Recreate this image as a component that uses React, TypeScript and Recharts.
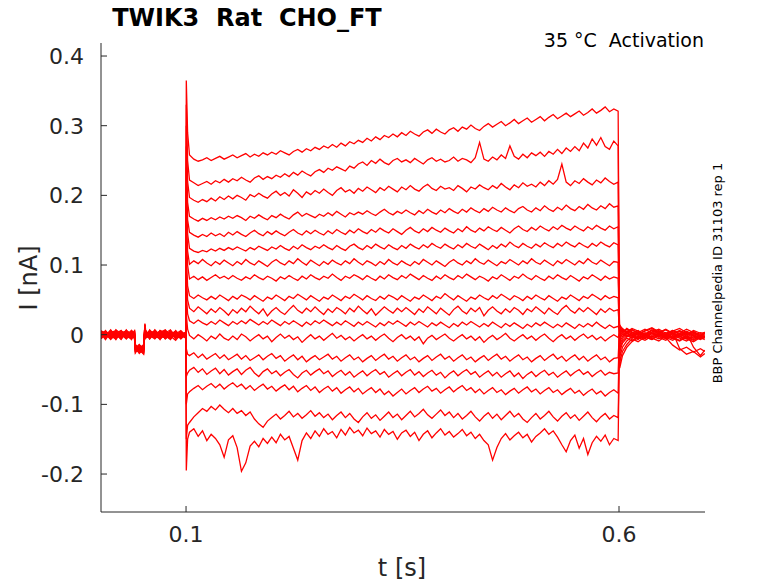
import React from 'react';
import { LineChart, Line, XAxis, YAxis } from 'recharts';

// sweep currents in pA, top sweep first
const SWEEPS = 17;
const X_TICKS = [0.1, 0.6];
const Y_TICKS = [-0.2, -0.1, 0, 0.1, 0.2, 0.3, 0.4];

// holding period before the step
const PRE_T = [0.002, 0.007, 0.013, 0.019, 0.025, 0.031, 0.037, 0.0405, 0.0415, 0.046, 0.051, 0.0525, 0.0535, 0.058, 0.064, 0.07, 0.076, 0.082, 0.088, 0.094, 0.0998];
const PRE_PA = [
  [3, -5, 2, -7, 4, -3, 6, -1, -20, -24, -17, 14, 2, -6, 3, -4, 5, -2, -8, 1, -3],
  [-4, 2, -6, 5, -2, 7, -5, 3, -16, -27, -21, 9, -3, 4, -5, 6, -1, -7, 3, -4, 2],
  [5, -1, 6, -4, 1, -6, 2, -5, -23, -19, -25, 16, 5, -2, 6, -3, 2, 7, -5, 4, -1],
  [-2, 6, -3, 1, -7, 3, -1, 5, -18, -22, -14, 6, -4, 7, -1, 3, -6, 1, 5, -3, 4],
  [1, -7, 4, -2, 5, -4, 3, -6, -25, -16, -20, 11, 1, -5, 2, -7, 4, -3, 1, 6, -2],
  [-6, 3, -1, 6, -3, 2, -7, 1, -15, -21, -28, 4, 6, -1, -6, 2, -3, 5, -2, -5, 3],
  [4, -2, 7, -3, 2, -5, 5, -3, -21, -26, -18, 13, -2, 3, 5, -1, 6, -4, 3, -1, -5],
  [-3, 5, -4, 2, 6, -1, -4, 4, -19, -14, -23, 8, 3, -4, 1, 5, -2, 3, -6, 2, 1],
  [2, -4, 1, -6, 3, 5, -2, -4, -24, -20, -16, 15, -1, 6, -3, -5, 1, -2, 4, -3, -2],
  [-5, 1, -7, 4, -1, -3, 6, 2, -17, -25, -22, 3, 4, -3, 4, 0, -5, 6, -1, 5, 0],
  [6, -3, 3, -1, -5, 4, 0, -5, -22, -18, -26, 10, -5, 2, -4, 6, 3, -6, 2, -2, 3],
  [-1, 4, -5, 7, 1, -6, 3, 0, -20, -23, -15, 7, 2, -6, 6, -2, -4, 2, -3, 3, -4],
  [3, -6, 5, -3, 4, 1, -5, 6, -14, -20, -24, 12, -3, 5, -2, 3, 7, -1, 5, -6, 1],
  [-4, 0, -2, 3, -6, 6, 1, -2, -26, -17, -19, 5, 5, -1, 2, -6, 0, 4, -4, 0, -1],
  [1, 5, -6, -1, 3, -2, -6, 3, -18, -24, -21, 14, 0, 3, -5, 4, -3, -5, 6, -2, 4],
  [-3, -2, 4, 5, -4, 3, 4, -3, -22, -15, -18, 6, -4, -3, 7, -1, 5, 2, -2, 4, -3],
  [5, 3, -3, -5, 6, -4, -3, 5, -17, -22, -27, 9, 3, 1, -2, 5, -6, 0, 1, -4, 2],
];

// capacitive transient at step onset
const ONSET_T = [0.1003, 0.1018];
const SPIKE_PA = [365, 330, 300, 270, 240, 210, 180, 150, 120, 90, 60, 30, -20, -60, -100, -150, -195];
const DECAY_PA = [290, 250, 220, 190, 165, 145, 120, 100, 70, 50, 30, 8, -28, -55, -85, -130, -150];

// step, sampled every 5 ms from 0.104 s
const STEP_START = 0.104;
const STEP_DT = 0.005;
const STEP_PA = [
  [258, 252, 249, 251, 254, 250, 253, 256, 252, 255, 258, 254, 257, 260, 255, 259, 256, 261, 258, 262,
   259, 264, 261, 258, 263, 266, 262, 267, 264, 269, 266, 271, 268, 273, 269, 275, 271, 277, 274, 279,
   276, 282, 278, 284, 280, 286, 283, 288, 284, 290, 286, 292, 288, 285, 291, 294, 289, 295, 291, 288,
   294, 297, 292, 298, 295, 301, 296, 293, 299, 303, 298, 302, 306, 300, 304, 309, 303, 307, 311, 305,
   309, 313, 307, 312, 316, 310, 314, 318, 313, 317, 321, 315, 319, 324, 318, 322, 327, 320, 324, 321],
  [222, 218, 214, 217, 220, 216, 221, 218, 223, 219, 224, 221, 226, 222, 219, 225, 228, 223, 227, 224,
   229, 226, 231, 227, 233, 229, 235, 231, 228, 234, 237, 233, 239, 236, 241, 238, 235, 242, 239, 245,
   248, 243, 250, 246, 252, 247, 244, 250, 253, 248, 251, 247, 253, 249, 245, 251, 254, 249, 252, 248,
   250, 255, 249, 253, 251, 247, 254, 276, 252, 249, 255, 251, 258, 253, 271, 256, 252, 259, 254, 261,
   257, 262, 256, 263, 259, 266, 260, 268, 263, 270, 264, 275, 268, 281, 272, 283, 270, 266, 278, 271],
  [197, 193, 190, 194, 191, 196, 192, 198, 194, 199, 195, 200, 197, 193, 201, 198, 203, 199, 196, 202,
   206, 200, 204, 199, 208, 203, 197, 205, 201, 207, 203, 209, 204, 200, 207, 211, 205, 208, 203, 210,
   206, 212, 208, 204, 211, 207, 213, 209, 205, 212, 208, 214, 209, 206, 212, 216, 210, 207, 213, 209,
   211, 207, 214, 210, 205, 212, 209, 215, 211, 208, 214, 210, 217, 212, 208, 215, 211, 218, 213, 216,
   212, 219, 214, 221, 216, 223, 245, 219, 214, 221, 217, 224, 219, 215, 222, 218, 225, 220, 216, 219],
  [170, 166, 163, 167, 164, 168, 165, 169, 166, 170, 167, 171, 168, 164, 170, 167, 172, 168, 165, 171,
   168, 173, 169, 166, 172, 176, 170, 174, 171, 168, 173, 170, 175, 171, 177, 173, 169, 175, 172, 176,
   173, 178, 174, 171, 176, 180, 175, 172, 177, 174, 179, 175, 172, 178, 174, 180, 176, 173, 179, 175,
   181, 177, 174, 180, 176, 182, 178, 175, 181, 177, 183, 179, 176, 182, 178, 175, 181, 184, 179, 176,
   182, 178, 185, 180, 177, 183, 179, 186, 181, 178, 184, 180, 187, 182, 179, 185, 181, 188, 183, 185],
  [147, 143, 140, 144, 141, 146, 142, 145, 141, 147, 143, 148, 144, 141, 146, 150, 145, 142, 148, 144,
   149, 145, 142, 147, 151, 146, 143, 149, 145, 150, 146, 143, 149, 145, 151, 147, 144, 150, 146, 152,
   148, 145, 151, 147, 153, 149, 146, 152, 148, 144, 150, 154, 149, 146, 152, 148, 154, 150, 147, 153,
   149, 146, 152, 148, 155, 150, 147, 153, 149, 155, 151, 148, 154, 150, 146, 152, 156, 151, 148, 154,
   150, 156, 152, 149, 155, 151, 157, 153, 150, 156, 152, 149, 155, 151, 157, 153, 150, 156, 152, 155],
  [124, 120, 118, 121, 119, 123, 120, 124, 121, 125, 122, 126, 123, 120, 125, 122, 127, 124, 121, 126,
   123, 128, 124, 121, 127, 123, 129, 125, 122, 127, 124, 129, 125, 122, 128, 124, 121, 127, 130, 125,
   122, 128, 124, 130, 126, 123, 129, 125, 122, 128, 124, 130, 126, 123, 129, 125, 131, 127, 124, 130,
   126, 123, 129, 125, 131, 127, 124, 130, 126, 122, 128, 124, 130, 126, 133, 128, 125, 131, 127, 124,
   130, 126, 132, 128, 125, 131, 127, 133, 129, 126, 132, 128, 125, 131, 127, 133, 129, 126, 132, 129],
  [101, 106, 102, 108, 103, 99, 105, 101, 107, 103, 99, 105, 101, 108, 103, 100, 106, 102, 98, 104,
   108, 103, 100, 106, 102, 109, 104, 100, 107, 103, 99, 105, 101, 107, 103, 100, 106, 102, 109, 104,
   100, 106, 103, 99, 105, 101, 108, 103, 100, 106, 102, 99, 105, 101, 108, 104, 100, 106, 102, 98,
   104, 108, 103, 100, 106, 102, 109, 104, 101, 107, 103, 99, 105, 102, 108, 104, 100, 106, 102, 109,
   104, 101, 107, 103, 99, 106, 102, 108, 104, 100, 106, 102, 109, 104, 101, 107, 103, 99, 105, 104],
  [80, 84, 79, 83, 78, 82, 86, 81, 84, 80, 85, 81, 78, 83, 80, 86, 82, 79, 84, 81,
   77, 83, 80, 85, 81, 78, 84, 80, 86, 82, 79, 84, 81, 87, 82, 78, 84, 81, 86, 83,
   79, 85, 81, 78, 84, 80, 86, 82, 79, 85, 81, 87, 83, 79, 85, 81, 78, 84, 80, 86,
   82, 79, 85, 81, 87, 83, 79, 84, 81, 77, 83, 80, 86, 82, 78, 84, 81, 87, 82, 79,
   85, 81, 78, 84, 80, 86, 82, 79, 85, 81, 77, 83, 80, 86, 82, 78, 84, 80, 83, 81],
  [56, 52, 57, 53, 50, 55, 51, 57, 53, 49, 55, 51, 57, 54, 50, 56, 52, 48, 54, 51,
   57, 53, 49, 55, 52, 58, 54, 50, 56, 52, 48, 54, 51, 57, 53, 49, 55, 52, 58, 54,
   50, 56, 52, 49, 55, 51, 57, 54, 50, 56, 52, 48, 54, 51, 57, 53, 49, 55, 52, 59,
   54, 50, 56, 52, 48, 54, 51, 57, 53, 50, 56, 52, 58, 54, 50, 56, 53, 49, 55, 51,
   57, 53, 50, 56, 52, 48, 54, 51, 57, 53, 49, 55, 52, 58, 54, 50, 56, 52, 55, 53],
  [38, 33, 40, 35, 30, 37, 32, 39, 34, 28, 36, 31, 38, 33, 41, 35, 30, 37, 27, 34,
   39, 33, 29, 36, 42, 35, 31, 38, 33, 40, 34, 29, 37, 32, 39, 35, 30, 38, 33, 41,
   35, 30, 37, 28, 34, 40, 35, 31, 38, 33, 39, 34, 29, 37, 32, 40, 35, 30, 38, 33,
   28, 36, 41, 34, 30, 38, 33, 39, 27, 35, 40, 34, 30, 37, 32, 39, 35, 29, 37, 33,
   40, 35, 30, 38, 33, 29, 37, 42, 35, 31, 38, 33, 39, 34, 29, 37, 32, 38, 34, 36],
  [20, 16, 21, 17, 14, 19, 15, 21, 17, 13, 19, 15, 20, 16, 22, 18, 14, 19, 15, 21,
   17, 13, 19, 15, 20, 16, 12, 18, 14, 20, 16, 21, 17, 13, 18, 14, 20, 16, 12, 18,
   14, 19, 15, 11, 17, 13, 19, 15, 20, 16, 12, 18, 14, 19, 15, 11, 17, 13, 18, 14,
   10, 16, 12, 18, 14, 19, 15, 11, 16, 12, 18, 14, 10, 16, 12, 17, 13, 9, 15, 11,
   17, 13, 18, 14, 10, 15, 11, 17, 13, 9, 15, 11, 16, 12, 18, 13, 9, 14, 10, 12],
  [-1, -6, 0, -4, -9, -2, -6, 1, -5, -8, -2, -7, 1, -3, -9, -4, 0, -6, -2, -10,
   -4, 1, -5, -1, -7, -3, -11, -5, 0, -6, -2, -8, -3, 2, -5, -1, -7, -3, -9, -4,
   0, -6, -2, -8, -3, 1, -5, -10, -4, 0, -6, -2, -8, -3, -13, -5, -1, -7, -3, 1,
   -5, -9, -4, 0, -6, -2, -8, -3, -11, -5, -1, -7, -3, 2, -5, -9, -4, 0, -6, -2,
   -8, -3, 1, -5, -10, -4, 0, -6, -2, -8, -3, 1, -5, -1, -7, -3, -9, -4, 0, -4],
  [-30, -26, -33, -28, -35, -31, -27, -34, -29, -36, -32, -28, -35, -30, -37, -33, -29, -36, -31, -27,
   -34, -30, -38, -33, -29, -36, -31, -39, -34, -30, -36, -32, -28, -35, -31, -38, -33, -29, -36, -32,
   -39, -34, -30, -37, -32, -28, -35, -31, -38, -33, -29, -36, -32, -39, -34, -30, -37, -32, -28, -35,
   -31, -38, -33, -29, -36, -32, -39, -34, -30, -37, -32, -28, -35, -31, -38, -33, -29, -36, -32, -39,
   -34, -30, -37, -32, -28, -35, -31, -38, -33, -29, -36, -31, -38, -33, -29, -36, -32, -39, -34, -33],
  [-51, -47, -54, -49, -57, -52, -48, -56, -50, -58, -53, -49, -57, -51, -47, -55, -60, -53, -49, -56,
   -52, -59, -54, -50, -57, -62, -55, -51, -58, -53, -49, -56, -52, -60, -55, -51, -58, -53, -61, -56,
   -52, -59, -54, -50, -57, -53, -61, -56, -52, -59, -54, -50, -58, -53, -60, -55, -51, -58, -54, -62,
   -56, -52, -59, -54, -50, -57, -53, -61, -56, -52, -59, -54, -61, -56, -52, -60, -55, -63, -57, -53,
   -60, -55, -51, -58, -54, -61, -56, -52, -59, -54, -50, -57, -53, -60, -55, -51, -58, -54, -56, -55],
  [-82, -77, -73, -79, -74, -70, -76, -71, -78, -73, -69, -75, -71, -78, -73, -80, -75, -71, -78, -74,
   -81, -76, -72, -79, -74, -82, -77, -73, -80, -75, -83, -78, -74, -81, -76, -84, -79, -75, -82, -77,
   -85, -80, -76, -83, -78, -86, -81, -88, -83, -78, -85, -80, -76, -83, -78, -74, -81, -77, -84, -79,
   -75, -82, -77, -73, -80, -76, -83, -78, -85, -80, -76, -83, -79, -86, -81, -77, -84, -79, -75, -82,
   -78, -85, -80, -76, -83, -79, -86, -81, -77, -84, -80, -87, -82, -78, -85, -81, -88, -83, -79, -84],
  [-126, -118, -112, -106, -110, -103, -108, -101, -107, -112, -106, -113, -109, -116, -111, -121, -128, -133, -124, -119,
   -114, -121, -116, -110, -118, -113, -120, -115, -109, -117, -112, -119, -114, -122, -116, -111, -119, -113, -121, -126,
   -118, -112, -120, -115, -123, -117, -111, -119, -114, -122, -116, -110, -118, -113, -107, -115, -120, -114, -108, -116,
   -111, -119, -113, -121, -116, -110, -118, -124, -117, -112, -120, -114, -122, -116, -110, -118, -113, -121, -126, -119,
   -113, -121, -116, -110, -118, -124, -117, -112, -120, -115, -123, -117, -111, -119, -125, -118, -113, -121, -116, -119],
  [-140, -135, -146, -138, -152, -143, -149, -158, -176, -151, -145, -162, -196, -184, -160, -153, -161, -149, -156, -147,
   -155, -143, -151, -146, -163, -180, -152, -141, -149, -138, -146, -135, -143, -139, -148, -136, -144, -133, -141, -137,
   -145, -134, -142, -138, -147, -136, -143, -139, -150, -141, -137, -146, -140, -152, -143, -138, -148, -141, -135, -144,
   -139, -147, -142, -136, -145, -140, -149, -143, -152, -158, -180, -162, -149, -142, -151, -145, -140, -148, -143, -154,
   -146, -141, -135, -143, -138, -147, -158, -168, -152, -144, -163, -149, -172, -155, -146, -153, -144, -158, -149, -152],
];

// after the step
const POST_T = [0.6008, 0.604, 0.609, 0.615, 0.622, 0.63, 0.638, 0.646, 0.654, 0.662, 0.67, 0.678, 0.686, 0.694, 0.699];
const POST_PA = [
  [-48, -30, -18, -10, -4, -8, -2, -6, 0, -5, -9, -3, -7, -1, -4],
  [-40, -24, -14, -6, -10, -3, -7, 1, -4, -8, -2, -6, -10, -4, -7],
  [-32, -18, -9, -3, -7, 0, -5, -9, -2, -6, 1, -4, -8, -3, -5],
  [-25, -12, -5, -9, -2, -6, 2, -4, -8, -1, -5, -9, -3, -7, -4],
  [-20, -9, -3, 1, -5, -1, -6, -2, 3, -4, -8, -2, -5, 0, -3],
  [-14, -6, 0, -4, 2, -3, -7, 0, -4, 2, -3, -6, -1, -5, -2],
  [-10, -3, 2, -2, -6, 1, -3, 3, -2, -5, 0, -4, 2, -3, -1],
  [-6, 1, -3, 3, -1, -5, 2, -2, -6, 1, -3, 2, -2, -6, -2],
  [-2, 4, -1, -5, 2, -2, 3, -1, -4, -15, -22, -18, -25, -20, -24],
  [2, -3, 3, -1, 4, 0, -4, 2, -2, 4, -20, -28, -24, -32, -27],
  [6, 0, 5, 1, -3, 3, -1, 5, 0, -3, 2, -2, 4, -1, 1],
  [3, 7, 2, -2, 4, 0, 6, 1, -3, 3, -1, 5, 0, -4, 2],
  [10, 4, 8, 2, 6, -1, 4, 8, 2, 6, 0, 4, -1, 3, 1],
  [8, 3, 9, 4, 0, 5, 9, 3, 7, 1, 5, 0, 6, 2, 3],
  [12, 6, 2, 7, 3, 8, 2, 6, 0, 5, 9, 3, -18, -30, -22],
  [5, 9, 3, 7, 1, 6, 10, 4, 0, 6, 2, 8, 3, -2, 4],
  [14, 8, 4, 9, 5, 1, 7, 3, 8, 2, 6, 0, 5, -2, 3],
];

const keys = Array.from({ length: SWEEPS }, (_, i) => `s${i}`);

function buildRows() {
  const rows: Record<string, number>[] = [];
  const push = (t: number, pick: (i: number) => number) => {
    const row: Record<string, number> = { t };
    keys.forEach((k, i) => { row[k] = pick(i) / 1000; });
    rows.push(row);
  };
  PRE_T.forEach((t, j) => push(t, i => PRE_PA[i][j]));
  push(ONSET_T[0], i => SPIKE_PA[i]);
  push(ONSET_T[1], i => DECAY_PA[i]);
  STEP_PA[0].forEach((_, j) => push(STEP_START + j * STEP_DT, i => STEP_PA[i][j]));
  POST_T.forEach((t, j) => push(t, i => POST_PA[i][j]));
  return rows;
}

const data = buildRows();

const FONT = "'DejaVu Sans', sans-serif";
const INK = '#262626';
const PRE = { whiteSpace: 'pre' as const };

export default function App() {
  return (
    <div style={{ position: 'absolute', left: 0, top: 0, width: 778, height: 583, background: '#fff' }}>
      <LineChart width={778} height={583} data={data} margin={{ top: 43, right: 73, bottom: 31, left: 41 }}>
        <XAxis
          dataKey="t"
          type="number"
          domain={[0.0018, 0.6993]}
          allowDataOverflow
          ticks={X_TICKS}
          tickFormatter={(v: number) => String(v)}
          height={40}
          tickSize={-6}
          tickMargin={20}
          stroke={INK}
          tick={{ fontSize: 22, fill: INK, fontFamily: FONT }}
        />
        <YAxis
          type="number"
          domain={[-0.2545, 0.4187]}
          allowDataOverflow
          ticks={Y_TICKS}
          tickFormatter={(v: number) => String(v)}
          width={60}
          tickSize={-6}
          tickMargin={23}
          stroke={INK}
          tick={{ fontSize: 22, fill: INK, fontFamily: FONT }}
        />
        {keys.map(k => (
          <Line
            key={k}
            dataKey={k}
            type="linear"
            stroke="#ff0000"
            strokeWidth={1.3}
            dot={false}
            activeDot={false}
            isAnimationActive={false}
          />
        ))}
      </LineChart>
      <svg width={778} height={583} style={{ position: 'absolute', left: 0, top: 0, pointerEvents: 'none' }}>
        <g fontFamily={FONT} fill={INK}>
          <text x={247} y={26} fontSize={24} fontWeight="bold" textAnchor="middle" fill="#000" style={PRE}>TWIK3  Rat  CHO_FT</text>
          <text x={704} y={47} fontSize={19} textAnchor="end" fill="#000" style={PRE}>35 °C  Activation</text>
          <text x={402} y={576} fontSize={24} textAnchor="middle">t [s]</text>
          <text x={37} y={278} fontSize={24} textAnchor="middle" transform="rotate(-90 37 278)">I [nA]</text>
          <text x={722} y={273} fontSize={13} textAnchor="middle" fill="#000" transform="rotate(-90 722 273)">BBP Channelpedia ID 31103 rep 1</text>
        </g>
      </svg>
    </div>
  );
}
